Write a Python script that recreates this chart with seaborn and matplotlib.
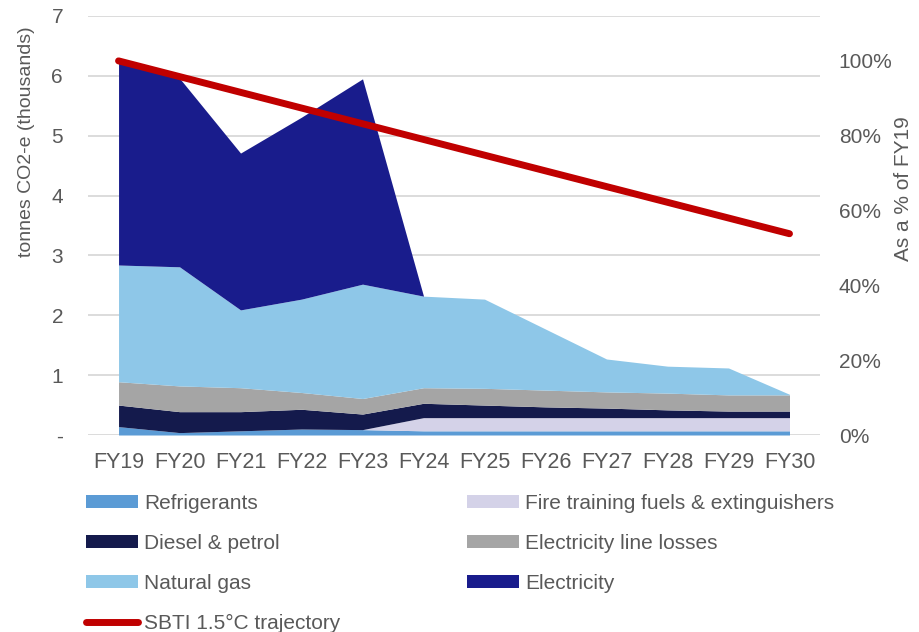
import matplotlib
matplotlib.use("Agg")
import matplotlib.pyplot as plt
import seaborn as sns
import numpy as np
import pandas as pd
from matplotlib.patches import Patch
from matplotlib.lines import Line2D

# Financial years on the x axis
years = ["FY19", "FY20", "FY21", "FY22", "FY23", "FY24",
         "FY25", "FY26", "FY27", "FY28", "FY29", "FY30"]

# Emissions by source, tonnes CO2-e (thousands)
refrigerants  = [0.14, 0.04, 0.07, 0.10, 0.09, 0.07, 0.07, 0.07, 0.07, 0.07, 0.07, 0.07]
fire_training = [0.00, 0.00, 0.00, 0.00, 0.00, 0.22, 0.22, 0.22, 0.22, 0.22, 0.22, 0.22]
diesel_petrol = [0.36, 0.35, 0.32, 0.33, 0.26, 0.24, 0.21, 0.18, 0.16, 0.13, 0.11, 0.11]
line_losses   = [0.39, 0.43, 0.40, 0.28, 0.26, 0.26, 0.28, 0.28, 0.27, 0.28, 0.27, 0.27]
natural_gas   = [1.95, 1.99, 1.30, 1.56, 1.91, 1.53, 1.49, 1.02, 0.55, 0.45, 0.45, 0.01]
electricity   = [3.39, 3.15, 2.62, 3.04, 3.43, 0.00, 0.00, 0.00, 0.00, 0.00, 0.00, 0.00]

# SBTi 1.5°C trajectory, % of FY19 emissions
sbti_pct = [100.0, 95.8, 91.6, 87.4, 83.2, 79.0, 74.8, 70.6, 66.4, 62.2, 58.0, 53.8]

y_ticks = [0, 1, 2, 3, 4, 5, 6, 7]
y_tick_labels = ["-", "1", "2", "3", "4", "5", "6", "7"]
pct_ticks = [0, 20, 40, 60, 80, 100]

series_names = ["Refrigerants", "Fire training fuels & extinguishers", "Diesel & petrol",
                "Electricity line losses", "Natural gas", "Electricity"]
series_values = [refrigerants, fire_training, diesel_petrol, line_losses, natural_gas, electricity]
series_colors = ["#5B9BD5", "#D4D2E8", "#141A4C", "#A5A5A5", "#8EC7E8", "#191C8C"]
line_color = "#C00000"
text_color = "#595959"
grid_color = "#D9D9D9"

sns.set_theme(style="white")
plt.rcParams["font.family"] = ["Liberation Sans", "DejaVu Sans"]
FS = 15

df = pd.DataFrame({"year": years, "sbti": sbti_pct})
x = np.arange(len(years))

fig = plt.figure(figsize=(9.2, 6.32), dpi=100)
ax = fig.add_axes([0.0957, 0.3117, 0.7956, 0.663])

ax.stackplot(x, *series_values, colors=series_colors, linewidth=0, zorder=2)

ax.set_xlim(-0.5, len(years) - 0.5)
ax.set_ylim(0, 7)
ax.set_yticks(y_ticks)
ax.set_yticklabels(y_tick_labels)
ax.set_xticks(x)
ax.set_xticklabels(years)
ax.yaxis.grid(True, color=grid_color, linewidth=1.3, zorder=0)
ax.xaxis.grid(False)
ax.set_axisbelow(True)
for s in ax.spines.values():
    s.set_visible(False)
ax.tick_params(axis="y", length=0, pad=18, labelsize=FS, labelcolor=text_color)
ax.tick_params(axis="x", length=0, pad=12.5, labelsize=15.5, labelcolor=text_color)
ax.set_ylabel("tonnes CO2-e (thousands)", fontsize=14, color=text_color)
ax.yaxis.set_label_coords(-0.0724, 0.70)

# Secondary axis with the reduction trajectory
ax2 = ax.twinx()
sns.lineplot(x=x, y=df["sbti"], ax=ax2, color=line_color, linewidth=5,
             solid_capstyle="round", legend=False)
ax2.set_ylim(0, 112)
ax2.set_yticks(pct_ticks)
ax2.set_yticklabels([f"{p}%" for p in pct_ticks])
ax2.grid(False)
for s in ax2.spines.values():
    s.set_visible(False)
ax2.tick_params(axis="y", length=0, pad=13.5, labelsize=FS, labelcolor=text_color)
ax2.set_ylabel("As a % of FY19", fontsize=FS, color=text_color)
ax2.yaxis.set_label_coords(1.101, 0.588)

# Legend: two columns, area swatches plus the trajectory line
patches = {n: Patch(facecolor=c, edgecolor="none") for n, c in zip(series_names, series_colors)}
sbti_handle = Line2D([0], [0], color=line_color, linewidth=5, solid_capstyle="round")
handles = [patches["Refrigerants"], patches["Diesel & petrol"], patches["Natural gas"], sbti_handle,
           patches["Fire training fuels & extinguishers"], patches["Electricity line losses"],
           patches["Electricity"]]
labels = ["Refrigerants", "Diesel & petrol", "Natural gas", "SBTI 1.5°C trajectory",
          "Fire training fuels & extinguishers", "Electricity line losses", "Electricity"]
leg = fig.legend(handles, labels, loc="upper left", bbox_to_anchor=(0.0935, 0.218),
                 ncol=2, frameon=False, fontsize=FS, handlelength=2.5, handleheight=0.6,
                 handletextpad=0.3, labelspacing=1.0, columnspacing=6.05,
                 borderpad=0, borderaxespad=0)
for t in leg.get_texts():
    t.set_color(text_color)

fig.savefig("out.png", dpi=100)
